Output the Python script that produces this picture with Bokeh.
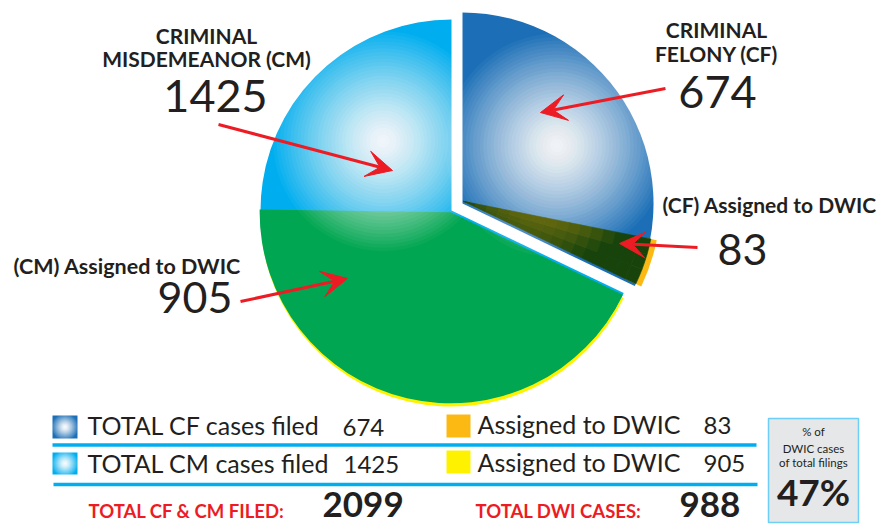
import numpy as np
from bokeh.plotting import figure
from bokeh.models import Range1d, Arrow, VeeHead, ColumnDataSource
from bokeh.core.properties import value
from bokeh.embed import file_html
from bokeh.resources import INLINE

# ---------------- data ----------------
case_types = ["CRIMINAL FELONY (CF)", "CRIMINAL MISDEMEANOR (CM)"]
short_names = ["CF", "CM"]
filed = [674, 1425]
assigned_dwic = [83, 905]

total_filed = sum(filed)
total_dwi = sum(assigned_dwic)
pct_dwi = round(100 * total_dwi / total_filed)

# ---------------- style ----------------
W, H = 894, 524
RED = "#ed1c24"
DARK = "#231f20"
BLUE = (28, 111, 183)
CYAN = (0, 174, 239)
GREEN = "#00a651"
ORANGE = (253, 185, 19)
YELLOW = "#fff200"
LINE_CYAN = "#00aeef"
FONT = "Lato"


def Y(y_img):
    return H - y_img


def hexc(rgb):
    return "#%02x%02x%02x" % tuple(int(round(max(0, min(255, c)))) for c in rgb)


p = figure(width=W, height=H, x_range=Range1d(0, W), y_range=Range1d(0, H),
           output_backend="svg", toolbar_location=None, min_border=0,
           x_axis_location=None, y_axis_location=None)
p.grid.visible = False
p.outline_line_color = None
p.background_fill_color = "white"
p.border_fill_color = "white"

# pie geometry
R = 191.0
cx, cy = 451.0, Y(210)
explode = 13.0

frac = np.array(filed) / total_filed
cf_span = 2 * np.pi * frac[0]
top = np.pi / 2
cf_start = top - cf_span           # CF lies clockwise from the top
cf_end = top
cm_start = top
cm_end = cf_start + 2 * np.pi

cf_mid = (cf_start + cf_end) / 2
fx, fy = cx + explode * np.cos(cf_mid), cy + explode * np.sin(cf_mid)

green_span = 2 * np.pi * assigned_dwic[1] / total_filed
green_start = cf_start - green_span
green_end = cf_start
sub_span = 2 * np.pi * assigned_dwic[0] / total_filed
sub_start = cf_start
sub_end = cf_start + sub_span


def glow(x0, y0, rad, n=32, pw=1.3, amax=0.97, color="white"):
    rin = rad * np.arange(0, n) / n
    rout = rad * np.arange(1, n + 1) / n
    a = amax * (1 - (rin / rad) ** pw)
    T = 1 - a
    Tn = np.append(T[1:], 1.0)
    alpha = 1 - T / Tn
    src = ColumnDataSource(dict(x=[x0] * n, y=[y0] * n, r=rout, a=alpha))
    p.circle(x="x", y="y", radius="r", source=src, fill_color=color,
             fill_alpha="a", line_color=None)


# CM slice (light blue) with green DWIC part and yellow rim
p.wedge(x=[cx], y=[cy - 5], radius=R, start_angle=green_start, end_angle=green_end,
        fill_color=YELLOW, line_color=None)
p.wedge(x=[cx], y=[cy], radius=R, start_angle=cm_start, end_angle=cm_end,
        fill_color=hexc(CYAN), line_color=None)
gx, gy = cx + 2.0 * np.sin(cf_start), cy - 2.0 * np.cos(cf_start)
p.wedge(x=[gx], y=[gy], radius=R, start_angle=green_start, end_angle=green_end,
        fill_color=GREEN, line_color=None)
lb_mid = (top + green_start + 2 * np.pi) / 2
glow(cx + 0.51 * R * np.cos(lb_mid), cy + 0.51 * R * np.sin(lb_mid), 110)

# CF slice (blue), exploded
p.wedge(x=[fx], y=[fy], radius=R, start_angle=cf_start, end_angle=cf_end,
        fill_color=hexc(BLUE), line_color=None)
gcx, gcy = fx + 0.58 * R * np.cos(cf_mid - 0.01), fy + 0.58 * R * np.sin(cf_mid - 0.01)
glow(gcx, gcy, 112)

# CF DWIC part: shaded dark olive wedge with orange rim
sx, sy = fx - 2.5 * np.sin(cf_start), fy + 2.5 * np.cos(cf_start)
p.annular_wedge(x=[sx], y=[sy], inner_radius=R - 12, outer_radius=R + 6,
                start_angle=sub_start, end_angle=sub_end,
                fill_color=hexc(ORANGE), line_color=None)
nr, na = 16, 3
cells = dict(x=[], y=[], ir=[], orr=[], sa=[], ea=[], c=[])
for i in range(nr):
    r0, r1 = R * i / nr, R * (i + 1) / nr
    for j in range(na):
        a0 = sub_start + sub_span * j / na
        a1 = sub_start + sub_span * (j + 1) / na
        rm, am = (r0 + r1) / 2, (a0 + a1) / 2
        px, py = sx + rm * np.cos(am), sy + rm * np.sin(am)
        d = np.hypot(px - gcx, py - gcy)
        a = 0.97 * (1 - min(d / 112, 1) ** 1.3)
        base = np.array(BLUE) * (1 - a) + 255 * a
        col = 0.85 * base * np.array(ORANGE) / 255
        cells["x"].append(sx); cells["y"].append(sy)
        cells["ir"].append(r0); cells["orr"].append(r1)
        cells["sa"].append(a0); cells["ea"].append(a1)
        cells["c"].append(hexc(col))
p.annular_wedge(x="x", y="y", inner_radius="ir", outer_radius="orr",
                start_angle="sa", end_angle="ea", fill_color="c", line_color="c",
                line_width=0.6, source=ColumnDataSource(cells))

# arrows
def arrow(x0, y0, x1, y1):
    p.add_layout(Arrow(end=VeeHead(size=26, fill_color=RED, line_color=RED, line_width=1),
                       x_start=x0, y_start=Y(y0), x_end=x1, y_end=Y(y1),
                       line_color=RED, line_width=3))

arrow(218, 124, 392, 170)
arrow(665, 88, 540, 112)
arrow(697, 247, 619, 243)
arrow(240, 301, 347, 278)


def txt(x, y, s, size, bold=False, align="left", color=DARK, font=FONT):
    # y is the wanted baseline in picture pixels; svg text sits ~0.37em lower
    p.text(x=[x], y=[Y(y - 0.37 * size)], text=[s], text_font=value(font),
           text_font_size=f"{size}px",
           text_font_style="bold" if bold else "normal", text_align=align,
           text_baseline="alphabetic", text_color=color)


# pie labels
txt(206, 43, "CRIMINAL", 21, True, "center")
txt(206, 66, "MISDEMEANOR (" + short_names[1] + ")", 21, True, "center")
txt(215, 112, str(filed[1]), 45, False, "center")
txt(716, 37, "CRIMINAL", 21, True, "center")
txt(716, 61, "FELONY (" + short_names[0] + ")", 21, True, "center")
txt(717, 108, str(filed[0]), 45, False, "center")
txt(662, 212, "(" + short_names[0] + ") Assigned to DWIC", 21, True)
txt(717, 265, str(assigned_dwic[0]), 43)
txt(13, 273, "(" + short_names[1] + ") Assigned to DWIC", 21.5, True)
txt(157, 313, str(assigned_dwic[1]), 43)

# legend swatches
p.quad(left=[52], right=[77], bottom=[Y(438)], top=[Y(415)], fill_color=hexc(BLUE), line_color=None)
glow(64.5, Y(426.5), 13, n=12)
p.quad(left=[52], right=[77], bottom=[Y(474)], top=[Y(452)], fill_color=hexc(CYAN), line_color=None)
glow(64.5, Y(463), 13, n=12)
p.quad(left=[446], right=[470], bottom=[Y(437)], top=[Y(414)], fill_color=hexc(ORANGE), line_color=None)
p.quad(left=[446], right=[470], bottom=[Y(473)], top=[Y(450)], fill_color=YELLOW, line_color=None)

txt(87, 434, "TOTAL CF cases filed", 25)
txt(342, 436, str(filed[0]), 24)
txt(87, 472, "TOTAL CM cases filed", 25)
txt(343, 473, str(filed[1]), 24)
txt(477, 433, "Assigned to DWIC", 25)
txt(703, 434, str(assigned_dwic[0]), 24)
txt(477, 471, "Assigned to DWIC", 25)
txt(703, 472, str(assigned_dwic[1]), 24)

p.segment(x0=[52, 53], y0=[Y(444.5), Y(484)], x1=[756, 757], y1=[Y(444.5), Y(484)],
          line_color=LINE_CYAN, line_width=3.5)

txt(88, 517, "TOTAL CF & CM FILED:", 18.5, True, color=RED)
txt(322, 517, str(total_filed), 35, True)
txt(475, 517, "TOTAL DWI CASES:", 18.5, True, color=RED)
txt(679, 517, str(total_dwi), 35, True)

# percentage box
p.quad(left=[768], right=[858], bottom=[Y(522)], top=[Y(418)], fill_color="#e6e7e8",
       line_color="#6dcff6", line_width=1.5)
txt(813, 435, "% of", 11.5, False, "center")
txt(813, 452, "DWIC cases", 11.5, False, "center")
txt(813, 466, "of total filings", 11.5, False, "center")
txt(813, 505, f"{pct_dwi}%", 37, True, "center")

open("out.html", "w").write(file_html(p, INLINE))
